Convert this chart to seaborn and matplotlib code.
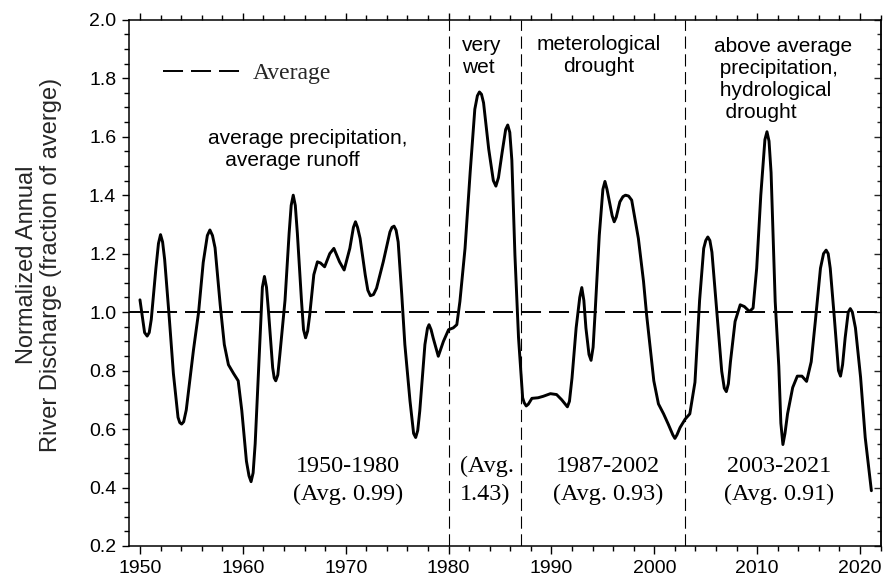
import matplotlib
matplotlib.use("Agg")
import matplotlib.pyplot as plt
from matplotlib.ticker import MultipleLocator, FormatStrFormatter
import seaborn as sns
import pandas as pd

# ---- data (smoothed discharge curve, by decade) ----
years_1950s = [1950.0, 1950.45, 1950.7, 1950.9, 1951.1, 1951.55, 1951.8, 1952.0, 1952.2, 1952.4,
               1952.85, 1953.25, 1953.7, 1953.87, 1954.05, 1954.25, 1954.5, 1955.2, 1955.7, 1956.15,
               1956.55, 1956.8, 1957.05, 1957.3, 1957.8, 1958.2, 1958.6, 1959.1, 1959.55, 1959.9]
values_1950s = [1.042, 0.93, 0.918, 0.93, 0.975, 1.15, 1.235, 1.265, 1.24, 1.18,
                0.98, 0.79, 0.64, 0.622, 0.617, 0.625, 0.665, 0.87, 1.0, 1.17,
                1.262, 1.281, 1.262, 1.22, 1.025, 0.889, 0.82, 0.79, 0.765, 0.663]

years_1960s = [1960.35, 1960.6, 1960.8, 1961.0, 1961.2, 1961.65, 1961.9, 1962.1, 1962.3, 1962.5,
               1962.9, 1963.05, 1963.2, 1963.4, 1963.6, 1964.1, 1964.5, 1964.7, 1964.9, 1965.1,
               1965.3, 1965.7, 1965.9, 1966.1, 1966.3, 1966.5, 1966.9, 1967.25, 1967.55, 1967.95,
               1968.45, 1968.85, 1969.4, 1969.85]
values_1960s = [0.49, 0.44, 0.42, 0.45, 0.55, 0.89, 1.085, 1.122, 1.085, 1.0,
                0.81, 0.775, 0.765, 0.785, 0.855, 1.04, 1.27, 1.365, 1.40, 1.365,
                1.27, 1.04, 0.94, 0.912, 0.935, 0.99, 1.128, 1.172, 1.168, 1.155,
                1.20, 1.218, 1.172, 1.144]

years_1970s = [1970.4, 1970.75, 1970.95, 1971.15, 1971.4, 1971.9, 1972.15, 1972.4, 1972.7, 1973.0,
               1973.65, 1974.3, 1974.5, 1974.7, 1974.9, 1975.1, 1975.45, 1975.75, 1976.25, 1976.6,
               1976.8, 1977.0, 1977.2, 1977.7, 1977.95, 1978.1, 1978.3, 1978.5, 1979.0, 1979.5]
values_1970s = [1.218, 1.29, 1.309, 1.29, 1.252, 1.127, 1.075, 1.056, 1.06, 1.082,
                1.172, 1.274, 1.29, 1.294, 1.28, 1.24, 1.059, 0.889, 0.696, 0.585,
                0.571, 0.595, 0.662, 0.889, 0.945, 0.957, 0.94, 0.912, 0.849, 0.90]

years_1980s = [1980.0, 1980.45, 1980.8, 1981.1, 1981.6, 1982.1, 1982.55, 1982.8, 1983.0, 1983.2,
               1983.4, 1983.9, 1984.35, 1984.6, 1984.85, 1985.2, 1985.55, 1985.75, 1985.95, 1986.15,
               1986.45, 1986.8, 1987.2, 1987.35, 1987.55, 1987.75, 1988.1, 1988.7, 1989.2, 1989.9]
values_1980s = [0.94, 0.946, 0.957, 1.036, 1.218, 1.479, 1.694, 1.74, 1.753, 1.745,
                1.716, 1.558, 1.45, 1.431, 1.46, 1.545, 1.625, 1.64, 1.615, 1.52,
                1.195, 0.912, 0.707, 0.69, 0.679, 0.685, 0.705, 0.707, 0.712, 0.721]

years_1990s = [1990.5, 1991.0, 1991.35, 1991.55, 1991.75, 1992.0, 1992.4, 1992.75, 1992.95, 1993.15,
               1993.35, 1993.65, 1993.85, 1994.05, 1994.25, 1994.65, 1995.0, 1995.2, 1995.4, 1995.7,
               1995.9, 1996.1, 1996.3, 1996.65, 1996.95, 1997.2, 1997.5, 1997.8, 1998.45, 1998.95,
               1999.25, 1999.6, 1999.95]
values_1990s = [0.718, 0.70, 0.685, 0.676, 0.695, 0.775, 0.946, 1.05, 1.084, 1.04,
                0.946, 0.855, 0.835, 0.88, 1.002, 1.263, 1.42, 1.447, 1.42, 1.366,
                1.33, 1.309, 1.325, 1.377, 1.395, 1.40, 1.397, 1.383, 1.252, 1.105,
                0.991, 0.878, 0.765]

years_2000s = [2000.4, 2000.9, 2001.35, 2001.8, 2002.0, 2002.2, 2002.5, 2003.0, 2003.45, 2003.95,
               2004.4, 2004.8, 2005.0, 2005.2, 2005.4, 2005.6, 2006.1, 2006.55, 2006.8, 2007.0,
               2007.2, 2007.4, 2007.85, 2008.35, 2008.75, 2009.25, 2009.6, 2009.95]
values_2000s = [0.686, 0.652, 0.617, 0.58, 0.568, 0.58, 0.605, 0.634, 0.652, 0.76,
                1.04, 1.218, 1.245, 1.257, 1.245, 1.205, 0.991, 0.798, 0.74, 0.728,
                0.755, 0.83, 0.968, 1.025, 1.019, 1.002, 1.014, 1.15]

years_2010s = [2010.35, 2010.75, 2010.95, 2011.15, 2011.35, 2011.75, 2012.1, 2012.3, 2012.5, 2012.7,
               2012.95, 2013.45, 2013.9, 2014.35, 2014.8, 2015.25, 2015.65, 2016.15, 2016.45, 2016.7,
               2016.9, 2017.1, 2017.5, 2017.9, 2018.1, 2018.3, 2018.55, 2018.85, 2019.05, 2019.25,
               2019.55, 2020.05, 2020.5, 2021.1]
values_2010s = [1.40, 1.59, 1.617, 1.585, 1.477, 1.036, 0.815, 0.62, 0.547, 0.585,
                0.652, 0.742, 0.781, 0.781, 0.763, 0.83, 0.968, 1.15, 1.2, 1.212,
                1.2, 1.15, 0.98, 0.8, 0.781, 0.82, 0.912, 1.0, 1.012, 1.0,
                0.946, 0.777, 0.571, 0.389]

average_level = 1.0
period_breaks = [1980, 1987, 2003]
period_labels = ["1950-1980\n(Avg. 0.99)", "(Avg.\n1.43)", "1987-2002\n(Avg. 0.93)", "2003-2021\n(Avg. 0.91)"]
period_notes = ["average precipitation,\n   average runoff", "very\nwet",
                "meterological\ndrought", "above average\n precipitation,\n hydrological\n  drought"]

years = (years_1950s + years_1960s + years_1970s + years_1980s
         + years_1990s + years_2000s + years_2010s)
discharge = (values_1950s + values_1960s + values_1970s + values_1980s
             + values_1990s + values_2000s + values_2010s)
df = pd.DataFrame({"year": years, "discharge": discharge})

sns.set_style("ticks")
plt.rcParams["font.family"] = ["Liberation Sans", "DejaVu Sans"]

fig = plt.figure(figsize=(8.89, 5.85), dpi=100)
ax = fig.add_axes([0.1454, 0.0667, 0.8452, 0.8995])

sns.lineplot(data=df, x="year", y="discharge", estimator=None, sort=False,
             color="black", linewidth=2.1, ax=ax, solid_joinstyle="round")
ax.axhline(average_level, color="black", linewidth=1.4, linestyle=(0, (10.3, 4.1)),
           label="Average", zorder=1)
for b in period_breaks:
    ax.axvline(b, color="black", linewidth=0.8, linestyle=(0, (11, 5)), zorder=1)

ax.set_xlim(1948.96, 2022.0)
ax.set_ylim(0.2, 2.0)
ax.xaxis.set_major_locator(MultipleLocator(10))
ax.xaxis.set_minor_locator(MultipleLocator(2))
ax.yaxis.set_major_locator(MultipleLocator(0.2))
ax.yaxis.set_minor_locator(MultipleLocator(0.05))
ax.yaxis.set_major_formatter(FormatStrFormatter("%.1f"))

for s in ax.spines.values():
    s.set_linewidth(1.1)
    s.set_color("black")
ax.tick_params(axis="x", which="both", direction="out", top=True, bottom=True,
               labelsize=14, colors="black", width=1.0, pad=5)
ax.tick_params(axis="x", which="major", length=5.4)
ax.tick_params(axis="x", which="minor", length=3.6)
ax.tick_params(axis="y", which="both", direction="out", left=True, right=False,
               labelsize=14, colors="black", width=1.0, pad=4)
ax.tick_params(axis="y", which="major", length=5.4)
ax.tick_params(axis="y", which="minor", length=3.6)

sec = ax.secondary_yaxis("right")
sec.yaxis.set_major_locator(MultipleLocator(0.2))
sec.yaxis.set_minor_locator(MultipleLocator(0.05))
sec.tick_params(which="both", direction="in", labelright=False, width=1.0)
sec.tick_params(which="major", length=5.0)
sec.tick_params(which="minor", length=3.0)
sec.spines["right"].set_linewidth(1.1)

ax.set_xlabel("")
ax.set_ylabel("Normalized Annual\nRiver Discharge (fraction of averge)", fontsize=17,
              linespacing=1.15, ha="center", va="center", multialignment="center")
ax.yaxis.set_label_coords(-0.12, 0.534)

ax.legend(loc="center left", bbox_to_anchor=(0.0449, 0.898), frameon=False,
          borderpad=0, borderaxespad=0, handlelength=3.25, handletextpad=0.55,
          prop={"family": "Liberation Serif", "size": 17})

sans = dict(family="Liberation Sans", fontsize=15, color="black")
ax.text(1956.61, 1.557, period_notes[0], ha="left", va="center", **sans)
ax.text(1981.3, 1.875, period_notes[1], ha="left", va="center", **sans)
ax.text(1994.62, 1.877, period_notes[2], ha="center", va="center", **sans)
ax.text(2005.8, 1.795, period_notes[3], ha="left", va="center", **sans)

serif = dict(family="Liberation Serif", fontsize=17.4, color="black", linespacing=1.4)
ax.text(1970.22, 0.424, period_labels[0], ha="center", va="center", multialignment="center", **serif)
ax.text(1981.1, 0.424, period_labels[1], ha="left", va="center", **serif)
ax.text(1995.5, 0.424, period_labels[2], ha="center", va="center", multialignment="center", **serif)
ax.text(2012.12, 0.424, period_labels[3], ha="center", va="center", multialignment="center", **serif)

fig.savefig("out.png", dpi=100)
